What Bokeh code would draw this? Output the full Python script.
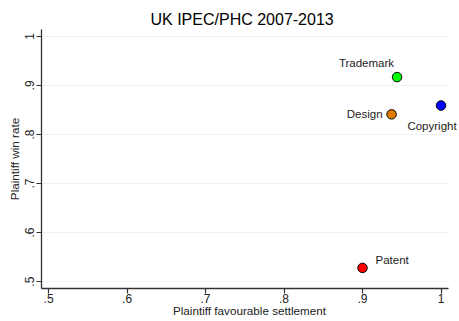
from bokeh.plotting import figure
from bokeh.models import ColumnDataSource, FixedTicker, Range1d, Title, Label
from bokeh.embed import file_html
from bokeh.resources import INLINE

# Data
categories = ["Trademark", "Design", "Copyright", "Patent"]
settlement = [0.944, 0.937, 1.0, 0.90]
win_rate = [0.917, 0.841, 0.859, 0.528]
colors = ["#00FF00", "#E07B00", "#0000FF", "#FF0000"]
x_ticks = [0.5, 0.6, 0.7, 0.8, 0.9, 1.0]
x_tick_labels = [".5", ".6", ".7", ".8", ".9", "1"]
y_ticks = [0.5, 0.6, 0.7, 0.8, 0.9, 1.0]
y_tick_labels = [".5", ".6", ".7", ".8", ".9", "1"]

# label placement (style)
label_align = ["right", "right", "center", "left"]
label_dx = [-3, -9, -9, 13]
label_dy = [14, 0, -20, 8]

FONT = "Liberation Sans"
X_LO, X_AXIS_HI, X_FRAME_HI = 0.491, 1.009, 1.021
Y_LO, Y_HI = 0.486, 1.014

src = ColumnDataSource(dict(x=settlement, y=win_rate, c=colors, name=categories))

p = figure(width=459, height=321, output_backend="svg", toolbar_location=None,
           x_range=Range1d(X_LO, X_FRAME_HI), y_range=Range1d(Y_LO, Y_HI),
           min_border_left=41, min_border_right=2, min_border_top=29,
           min_border_bottom=33)
p.title = None
t = Title(text="UK IPEC/PHC 2007-2013", align="left", text_font=FONT,
          text_font_size="16px", text_font_style="normal", text_color="#000000",
          offset=109, standoff=4)
p.add_layout(t, "above")

p.outline_line_color = None
p.background_fill_color = "white"
p.border_fill_color = "white"

p.xgrid.visible = False
p.ygrid.visible = False
# horizontal grid lines limited to the axis extent
p.segment(x0=[X_LO] * len(y_ticks), x1=[X_AXIS_HI] * len(y_ticks),
          y0=y_ticks, y1=y_ticks, line_color="#EAF2F3", line_width=1,
          level="underlay")

for ax in (p.xaxis[0], p.yaxis[0]):
    ax.axis_line_color = "#333333"
    ax.axis_line_width = 1.3
    ax.major_tick_line_color = "#333333"
    ax.major_tick_line_width = 1.2
    ax.major_tick_out = 5
    ax.major_tick_in = 0
    ax.minor_tick_line_color = None
    ax.major_label_text_font = FONT
    ax.major_label_text_font_size = "12px"
    ax.major_label_text_color = "#222222"
    ax.axis_label_text_font = FONT
    ax.axis_label_text_font_size = "11.7px"
    ax.axis_label_text_font_style = "normal"
    ax.axis_label_text_color = "#222222"

p.xaxis[0].ticker = FixedTicker(ticks=x_ticks)
p.xaxis[0].major_label_overrides = {t_: l for t_, l in zip(x_ticks, x_tick_labels)}
p.xaxis[0].axis_label = "Plaintiff favourable settlement"
p.xaxis[0].major_label_standoff = 0
p.xaxis[0].axis_label_standoff = -2
p.xaxis[0].bounds = (X_LO, X_AXIS_HI)

p.yaxis[0].ticker = FixedTicker(ticks=y_ticks)
p.yaxis[0].major_label_overrides = {t_: l for t_, l in zip(y_ticks, y_tick_labels)}
p.yaxis[0].axis_label = "Plaintiff win rate"
p.yaxis[0].major_label_orientation = "vertical"
p.yaxis[0].major_label_standoff = 2
p.yaxis[0].axis_label_standoff = 2

p.scatter("x", "y", source=src, size=9.5, fill_color="c", line_color="#000000",
          line_width=1)
for xv, yv, name, al, dx, dy in zip(settlement, win_rate, categories,
                                    label_align, label_dx, label_dy):
    p.add_layout(Label(x=xv, y=yv, text=name, text_align=al,
                       text_baseline="middle", x_offset=dx, y_offset=dy,
                       text_font=FONT, text_font_size="11.5px",
                       text_color="#222222"))

open("out.html", "w").write(file_html(p, INLINE))
